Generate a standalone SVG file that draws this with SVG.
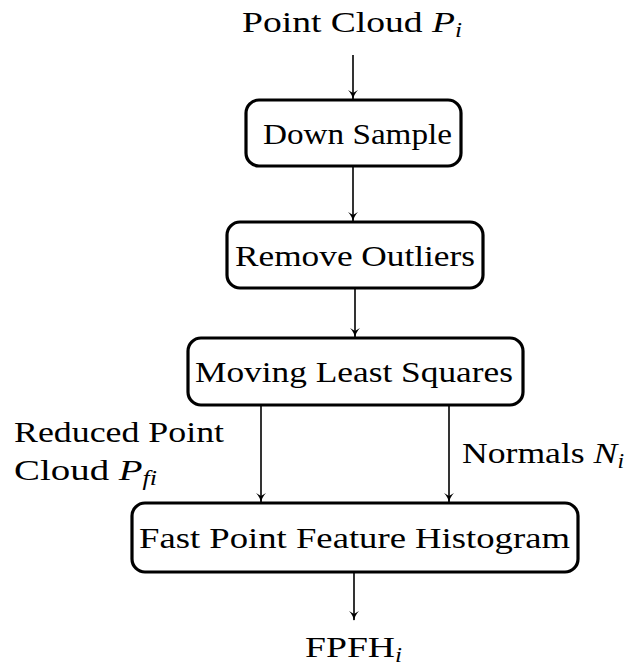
<svg xmlns="http://www.w3.org/2000/svg" width="630" height="669" viewBox="0 0 630 669">
<style>
.box{fill:#fff;stroke:#000;stroke-width:3.2}
.t{font-family:"Liberation Serif","Times New Roman",serif;font-size:30px;fill:#000}
.it{font-style:italic}
.sub{font-size:20px;font-style:italic}
.con line{stroke:#000;stroke-width:1.6;marker-end:url(#ah)}
</style>
<defs>
<marker id="ah" markerWidth="12" markerHeight="12" refX="9" refY="5" orient="auto" markerUnits="userSpaceOnUse">
<path d="M0,0 Q4,4 10,5 Q4,6 0,10 L3,5 Z" fill="#000"/>
</marker>
</defs>
<g id="input"><text class="t" x="242" y="32" textLength="220" lengthAdjust="spacingAndGlyphs">Point Cloud <tspan class="it">P</tspan><tspan class="sub" dy="5">i</tspan></text></g>
<g id="down"><rect class="box" x="246" y="100" width="215" height="66" rx="13"/><text class="t" x="263" y="144" textLength="189" lengthAdjust="spacingAndGlyphs">Down Sample</text></g>
<g id="outliers"><rect class="box" x="227" y="222" width="256" height="66" rx="13"/><text class="t" x="235" y="266" textLength="240" lengthAdjust="spacingAndGlyphs">Remove Outliers</text></g>
<g id="mls"><rect class="box" x="188" y="338" width="335" height="67" rx="13"/><text class="t" x="195" y="382" textLength="318" lengthAdjust="spacingAndGlyphs">Moving Least Squares</text></g>
<g id="fpfh"><rect class="box" x="132" y="503" width="446" height="69" rx="13"/><text class="t" x="139" y="548" textLength="431" lengthAdjust="spacingAndGlyphs">Fast Point Feature Histogram</text></g>
<g id="output"><text class="t" x="305" y="657" textLength="97" lengthAdjust="spacingAndGlyphs">FPFH<tspan class="sub" dy="5">i</tspan></text></g>
<g id="labels">
<text class="t" x="14" y="442" textLength="210" lengthAdjust="spacingAndGlyphs">Reduced Point</text>
<text class="t" x="14" y="480" textLength="143" lengthAdjust="spacingAndGlyphs">Cloud <tspan class="it">P</tspan><tspan class="sub" dy="5">fi</tspan></text>
<text class="t" x="462" y="463" textLength="162" lengthAdjust="spacingAndGlyphs">Normals <tspan class="it">N</tspan><tspan class="sub" dy="5">i</tspan></text>
</g>
<g class="con" id="connectors">
<line x1="353" y1="55" x2="353" y2="99"/>
<line x1="353" y1="166" x2="353" y2="221"/>
<line x1="355" y1="288" x2="355" y2="337"/>
<line x1="261" y1="405" x2="261" y2="502"/>
<line x1="449" y1="405" x2="449" y2="502"/>
<line x1="354" y1="572" x2="354" y2="620"/>
</g>
</svg>
